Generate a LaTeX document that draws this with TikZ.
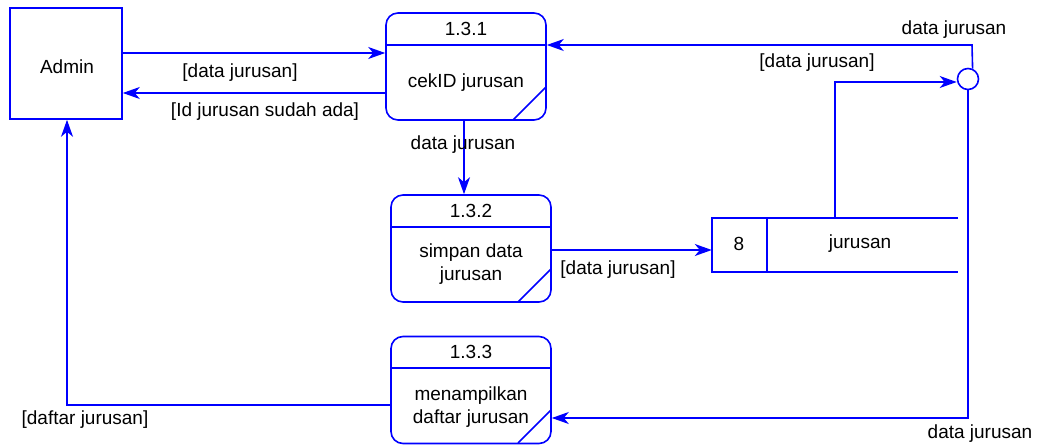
\documentclass[tikz,border=0pt]{standalone}
\usepackage{fontspec}
\setmainfont{Liberation Sans}
\usetikzlibrary{arrows.meta}
\definecolor{dfdblue}{RGB}{0,0,255}
\begin{document}
\begin{tikzpicture}[x=1pt,y=-1pt,
  every node/.style={font=\fontsize{19}{22.5}\selectfont, text=black},
  ln/.style={draw=dfdblue, line width=1.6pt},
  arr/.style={ln, -{Stealth[length=17pt,width=12pt,inset=5pt]}},
  proc/.style={ln, rounded corners=12pt, minimum width=160pt, minimum height=107pt, inner sep=0pt},
  ent/.style={ln, minimum width=112pt, minimum height=111pt, inner sep=0pt},
  lbl/.style={inner sep=1pt}]
\useasboundingbox (0,0) rectangle (1041,446);

% external entity
\node[ent] (admin) at (66,63.5) {};
\node[lbl] (admintxt) at (67,67) {Admin};

% processes
\node[proc] (p1) at (466,66.5) {};
\draw[ln] (386,45) -- (546,45);
\draw[ln] (513,120) -- (546,87);
\node[lbl] (p1id) at (466,29) {1.3.1};
\node[lbl] (p1t) at (466,83) {cekID jurusan};

\node[proc] (p2) at (471,248.5) {};
\draw[ln] (391,227) -- (551,227);
\draw[ln] (518,302) -- (551,269);
\node[lbl] (p2id) at (471,211) {1.3.2};
\node[lbl, align=center] (p2t) at (471,264) {simpan data\\jurusan};

\node[proc] (p3) at (471,390) {};
\draw[ln] (391,368) -- (551,368);
\draw[ln] (518,443) -- (551,410);
\node[lbl] (p3id) at (471,352) {1.3.3};
\node[lbl, align=center] (p3t) at (471,407) {menampilkan\\daftar jurusan};

% data store
\node[minimum width=246pt, minimum height=54pt, inner sep=0pt] (store) at (835,245) {};
\draw[ln] (958,218) -- (712,218) -- (712,272) -- (958,272);
\draw[ln] (767,218) -- (767,272);
\node[lbl] (storeid) at (739,244) {8};
\node[lbl] (storet) at (860,244) {jurusan};

% junction
\node[ln, circle, minimum size=21pt, inner sep=0pt] (j) at (968,79) {};

% flows
\draw[arr] (admin.east |- 0,53) -- (p1.west |- 0,53);
\draw[arr] (p1.west |- 0,93) -- (admin.east |- 0,93);
\draw[arr] (p1.south -| 464,0) -- (p2.north -| 464,0);
\draw[arr] (p2.east |- 0,250) -- (store.west |- 0,250);
\draw[arr] (store.north) -- (835,82) -- (j.west |- 0,82);
\draw[arr] (j.66) -- (972,45) -- (p1.east |- 0,45);
\draw[arr] (j.south) -- (968,418) -- (p3.east |- 0,418);
\draw[arr] (p3.west |- 0,405) -- (67,405) -- (admin.south -| 67,0);

% labels
\node[lbl] (l1) at (240,73) {[data jurusan]};
\node[lbl] (l2) at (265,112) {[Id jurusan sudah ada]};
\node[lbl] (l3) at (463,145) {data jurusan};
\node[lbl] (l4) at (618,270) {[data jurusan]};
\node[lbl] (l5) at (954,30) {data jurusan};
\node[lbl] (l6) at (817,63) {[data jurusan]};
\node[lbl] (l7) at (980,434) {data jurusan};
\node[lbl] (l8) at (85,420) {[daftar jurusan]};
\end{tikzpicture}
\end{document}
